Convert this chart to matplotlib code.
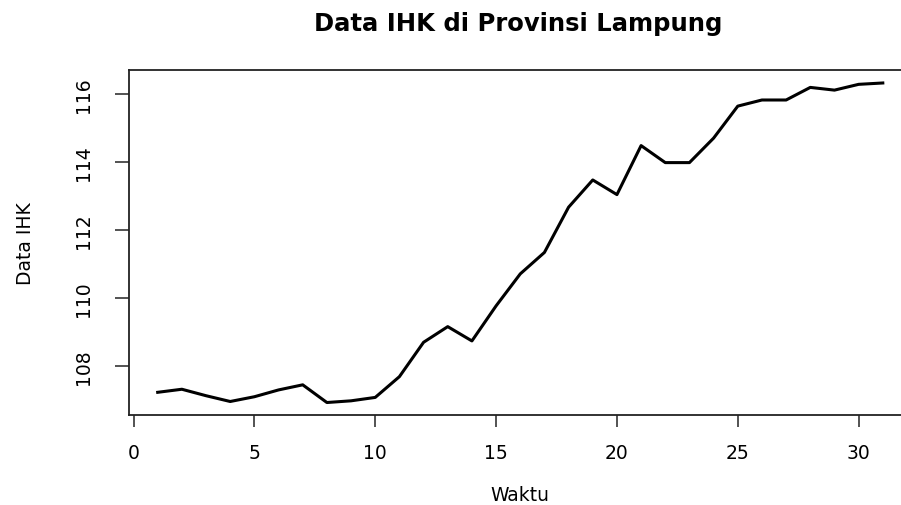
import matplotlib
matplotlib.use("Agg")
import matplotlib.pyplot as plt

waktu = list(range(1, 32))
ihk = [107.23, 107.32, 107.13, 106.96, 107.10, 107.30, 107.45, 106.93, 106.98, 107.08,
       107.69, 108.70, 109.16, 108.74, 109.77, 110.71, 111.34, 112.67, 113.47, 113.04,
       114.48, 113.98, 113.98, 114.70, 115.64, 115.82, 115.82, 116.19, 116.11, 116.28, 116.32]
xticks = [0, 5, 10, 15, 20, 25, 30]
yticks = [108, 110, 112, 114, 116]

plt.rcParams['font.family'] = ['DejaVu Sans']
W, H = 901, 506
fig = plt.figure(figsize=(W / 100, H / 100), dpi=100)
ax = fig.add_axes([128.7 / W, (H - 416.3) / H, (911.8 - 128.7) / W, (416.3 - 71.2) / H])
ax.plot(waktu, ihk, color='black', linewidth=2.2)
xmin, xmax = min(waktu), max(waktu)
ymin, ymax = min(ihk), max(ihk)
px = (xmax - xmin) * 0.04
py = (ymax - ymin) * 0.04
ax.set_xlim(xmin - px, xmax + px)
ax.set_ylim(ymin - py, ymax + py)
ax.set_xticks(xticks)
ax.set_yticks(yticks)
ax.tick_params(axis='both', labelsize=13.5, width=1.3, color='#444444')
ax.tick_params(axis='x', length=8.6, pad=11)
ax.tick_params(axis='y', length=10, pad=16)
for lbl in ax.get_yticklabels():
    lbl.set_rotation(90)
    lbl.set_va('center')
for s in ax.spines.values():
    s.set_linewidth(1.3)
    s.set_color('#222222')
ax.set_xlabel('Waktu', fontsize=13.5, labelpad=17)
ax.set_ylabel('Data IHK', fontsize=13.5, labelpad=28)
fig.text(518 / W, 1 - 24 / H, 'Data IHK di Provinsi Lampung', ha='center', va='center',
         fontsize=17.5, fontweight='bold')
fig.savefig('out.png', dpi=100)
